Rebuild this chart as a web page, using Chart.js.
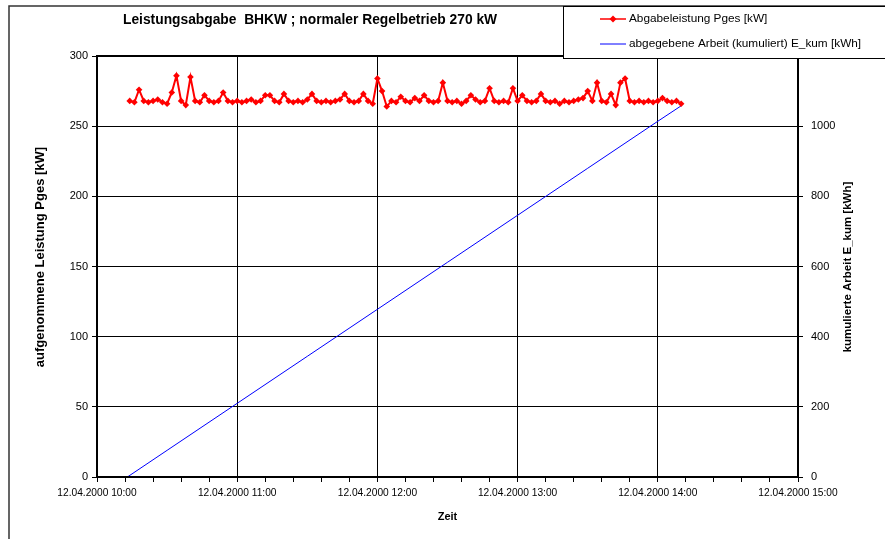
<!DOCTYPE html>
<html>
<head>
<meta charset="utf-8">
<script src="https://cdn.jsdelivr.net/npm/chart.js@4"></script>
<style>
  html, body { margin: 0; padding: 0; background: #fff; }
  canvas { display: block; }
</style>
</head>
<body>
<canvas id="chart" width="885" height="539"></canvas>
<script>
const chartTitle = 'Leistungsabgabe  BHKW ; normaler Regelbetrieb 270 kW';
const datePrefix = '12.04.2000 ';
const hourLabels = ['10:00', '11:00', '12:00', '13:00', '14:00', '15:00'];

// minutes after 10:00 (2-minute samples)
const powerTime = [
  14, 16, 18, 20, 22, 24, 26, 28, 30, 32, 34, 36, 38, 40, 42, 44, 46, 48, 50, 52,
  54, 56, 58, 60, 62, 64, 66, 68, 70, 72, 74, 76, 78, 80, 82, 84, 86, 88, 90, 92,
  94, 96, 98, 100, 102, 104, 106, 108, 110, 112, 114, 116, 118, 120, 122, 124, 126, 128, 130, 132,
  134, 136, 138, 140, 142, 144, 146, 148, 150, 152, 154, 156, 158, 160, 162, 164, 166, 168, 170, 172,
  174, 176, 178, 180, 182, 184, 186, 188, 190, 192, 194, 196, 198, 200, 202, 204, 206, 208, 210, 212,
  214, 216, 218, 220, 222, 224, 226, 228, 230, 232, 234, 236, 238, 240, 242, 244, 246, 248, 250
];
const powerKW = [
  268, 267, 276, 268, 267, 268, 269, 267, 266, 274, 286, 268, 265, 285, 268, 267, 272, 268, 267, 268,
  274, 268, 267, 268, 267, 268, 269, 267, 268, 272, 272, 268, 267, 273, 268, 267, 268, 267, 269, 273,
  268, 267, 268, 267, 268, 269, 273, 268, 267, 268, 273, 268, 266, 284, 275, 264, 268, 267, 271, 268,
  267, 270, 268, 272, 268, 267, 268, 281, 268, 267, 268, 266, 268, 272, 269, 267, 268, 277, 268, 267,
  268, 267, 277, 268, 272, 268, 267, 268, 273, 268, 267, 268, 266, 268, 267, 268, 269, 270, 275, 268,
  281, 268, 267, 273, 265, 281, 284, 268, 267, 268, 267, 268, 267, 268, 270, 268, 267, 268, 266
];

// cumulative energy, read at a few times
const energyTime = [13, 30, 60, 90, 120, 150, 180, 210, 240, 250];
const energyKWh = [0, 76, 210, 344, 478, 612, 746, 880, 1014, 1058];

const FONT = '"Liberation Sans", Arial, sans-serif';

function toPoints(xs, ys) {
  return xs.map((x, i) => ({ x: x, y: ys[i] }));
}

const decorations = {
  id: 'decorations',
  beforeDraw(chart) {
    const ctx = chart.ctx;
    ctx.save();
    ctx.fillStyle = '#fff';
    ctx.fillRect(0, 0, chart.width, chart.height);
    // outer frame
    ctx.strokeStyle = '#333';
    ctx.lineWidth = 1.5;
    ctx.beginPath();
    ctx.moveTo(9, chart.height);
    ctx.lineTo(9, 6);
    ctx.lineTo(chart.width, 6);
    ctx.stroke();
    ctx.restore();
  },
  afterDraw(chart) {
    const ctx = chart.ctx;
    const a = chart.chartArea;
    ctx.save();
    // plot border
    ctx.strokeStyle = '#000';
    ctx.lineWidth = 2;
    ctx.strokeRect(a.left, a.top, a.right - a.left, a.bottom - a.top);

    // title
    ctx.fillStyle = '#000';
    ctx.font = 'bold 13.8px ' + FONT;
    ctx.textAlign = 'left';
    ctx.textBaseline = 'middle';
    ctx.fillText(chartTitle, 123, 20);

    // axis titles (both read bottom to top)
    ctx.font = 'bold 13px ' + FONT;
    ctx.textAlign = 'center';
    ctx.save();
    ctx.translate(40, 257);
    ctx.rotate(-Math.PI / 2);
    ctx.fillText('aufgenommene Leistung Pges [kW]', 0, 0);
    ctx.restore();

    ctx.font = 'bold 11.5px ' + FONT;
    ctx.save();
    ctx.translate(848, 267);
    ctx.rotate(-Math.PI / 2);
    ctx.fillText('kumulierte Arbeit E_kum [kWh]', 0, 0);
    ctx.restore();

    // legend box
    ctx.fillStyle = '#fff';
    ctx.fillRect(563, 6, 330, 52);
    ctx.strokeStyle = '#000';
    ctx.lineWidth = 1;
    ctx.strokeRect(563.5, 6.5, 330, 52);
    ctx.font = '11.8px ' + FONT;
    ctx.textAlign = 'left';
    ctx.textBaseline = 'middle';
    const rows = [19, 44];
    chart.data.datasets.forEach((ds, i) => {
      const y = rows[i];
      ctx.strokeStyle = ds.borderColor;
      ctx.lineWidth = i === 0 ? 1.5 : 1;
      ctx.beginPath();
      ctx.moveTo(600, y);
      ctx.lineTo(626, y);
      ctx.stroke();
      if (ds.pointRadius > 0) {
        ctx.fillStyle = ds.pointBackgroundColor;
        ctx.beginPath();
        ctx.moveTo(613, y - 3.5);
        ctx.lineTo(616.5, y);
        ctx.lineTo(613, y + 3.5);
        ctx.lineTo(609.5, y);
        ctx.closePath();
        ctx.fill();
      }
      ctx.fillStyle = '#000';
      ctx.fillText(ds.label, 629, y);
    });
    ctx.restore();
  }
};

new Chart(document.getElementById('chart'), {
  type: 'line',
  data: {
    datasets: [{
      label: 'Abgabeleistung Pges [kW]',
      data: toPoints(powerTime, powerKW),
      yAxisID: 'y',
      borderColor: '#ff0000',
      borderWidth: 2,
      pointStyle: 'rectRot',
      pointRadius: 3.3,
      pointBackgroundColor: '#ff0000',
      pointBorderColor: '#ff0000',
      pointBorderWidth: 0,
      tension: 0
    }, {
      label: 'abgegebene Arbeit (kumuliert) E_kum [kWh]',
      data: toPoints(energyTime, energyKWh),
      yAxisID: 'y1',
      borderColor: '#0000ff',
      borderWidth: 1,
      pointRadius: 0,
      tension: 0
    }]
  },
  options: {
    responsive: false,
    animation: false,
    devicePixelRatio: 1,
    layout: { padding: { top: 56, left: 0, right: 0, bottom: 0 } },
    plugins: {
      legend: { display: false },
      title: { display: false },
      tooltip: { enabled: false }
    },
    scales: {
      x: {
        type: 'linear',
        min: 0,
        max: 300,
        afterFit: s => { s.height = 62; },
        ticks: {
          stepSize: 12,
          maxTicksLimit: 100,
          autoSkip: false,
          maxRotation: 0,
          padding: 5,
          color: '#000',
          font: { family: FONT, size: 10.2 },
          callback: v => v % 60 === 0 ? datePrefix + hourLabels[v / 60] : ''
        },
        grid: {
          color: c => (c.tick && c.tick.value % 60 === 0) ? '#000' : 'rgba(0,0,0,0)',
          tickColor: '#000',
          tickLength: 5,
          lineWidth: 1
        },
        border: { color: '#000', width: 2 },
        title: {
          display: true,
          text: 'Zeit',
          color: '#000',
          font: { family: FONT, size: 11, weight: 'bold' },
          padding: { top: 0, bottom: 15 }
        }
      },
      y: {
        position: 'left',
        min: 0,
        max: 300,
        afterFit: s => { s.width = 97; },
        ticks: {
          stepSize: 50,
          padding: 4,
          color: '#000',
          font: { family: FONT, size: 11 }
        },
        grid: { color: '#000', tickLength: 5, lineWidth: 1 },
        border: { color: '#000', width: 2 }
      },
      y1: {
        position: 'right',
        min: 0,
        max: 1200,
        afterFit: s => { s.width = 87; },
        ticks: {
          stepSize: 200,
          padding: 8,
          color: '#000',
          font: { family: FONT, size: 11 },
          callback: v => String(v)
        },
        grid: { drawOnChartArea: false, color: '#000', tickLength: 5 },
        border: { color: '#000', width: 1.5 }
      }
    }
  },
  plugins: [decorations]
});
</script>
</body>
</html>
